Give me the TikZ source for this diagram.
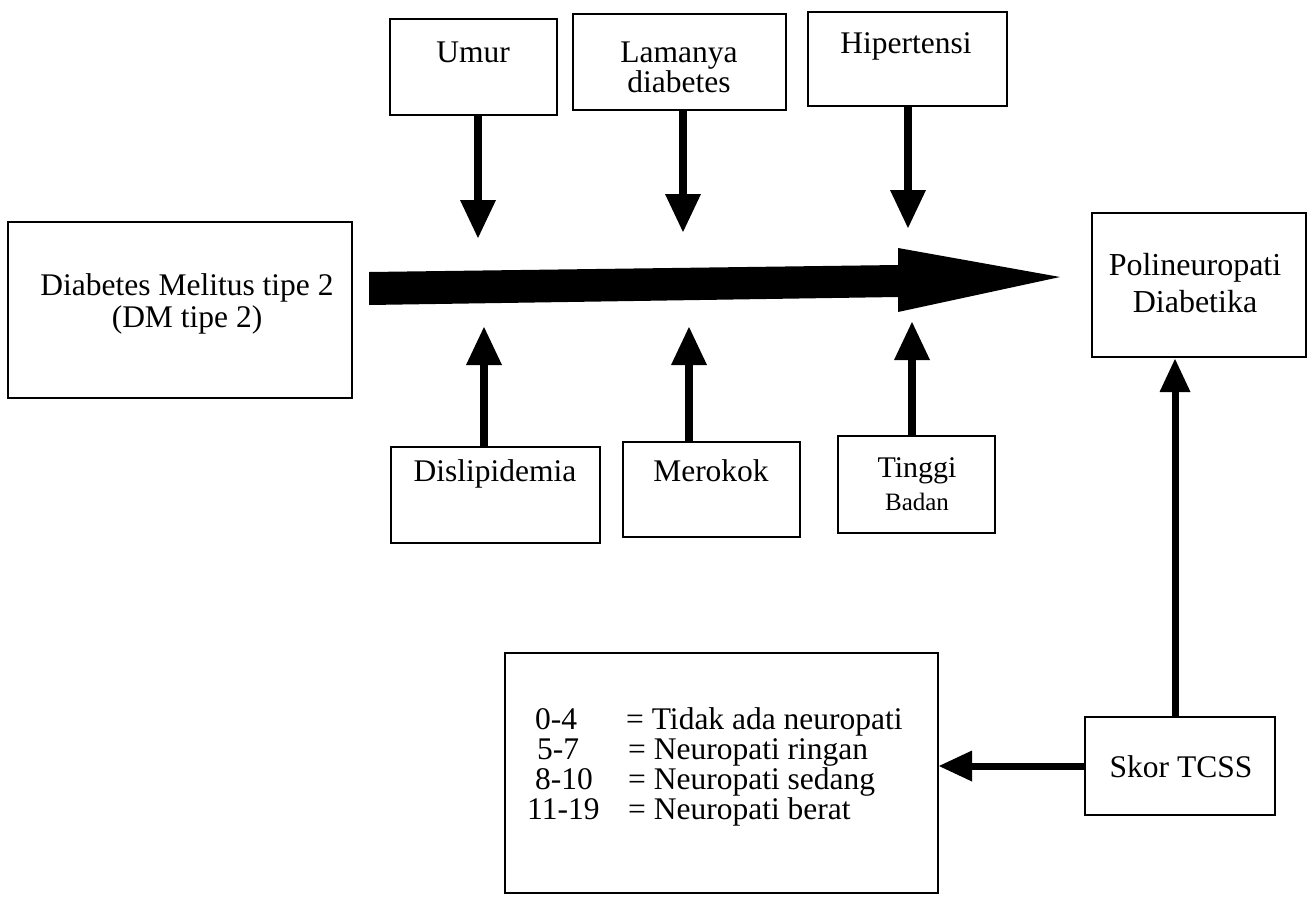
\documentclass[tikz,border=0pt]{standalone}
\usepackage{fontspec}
\setmainfont{Liberation Serif}
\usetikzlibrary{arrows.meta}
\begin{document}
\begin{tikzpicture}[x=1pt,y=-1pt,
  box/.style={draw, line width=2pt, inner sep=0pt},
  txt/.style={inner sep=0pt, anchor=base, font=\fontsize{31.5}{36}\selectfont},
  txtw/.style={inner sep=0pt, anchor=base west, font=\fontsize{31.5}{36}\selectfont},
  arrbig/.style={line width=8pt, -{Triangle[length=38pt,width=36pt,line width=0pt]}},
  arrsmall/.style={line width=7pt, -{Triangle[length=33pt,width=31pt,line width=0pt]}}]
\useasboundingbox (0,0) rectangle (1308,897);

% boxes
\node[box, minimum width=344pt, minimum height=176pt] (dm) at (180,310) {};
\node[box, minimum width=167pt, minimum height=96pt] (umur) at (473.5,67) {};
\node[box, minimum width=213pt, minimum height=96pt] (lama) at (679.5,62) {};
\node[box, minimum width=199pt, minimum height=94pt] (hip) at (907.5,59) {};
\node[box, minimum width=209pt, minimum height=96pt] (dis) at (495.5,495) {};
\node[box, minimum width=177pt, minimum height=95pt] (mer) at (711.5,489.5) {};
\node[box, minimum width=157pt, minimum height=97pt] (ting) at (916.5,484.5) {};
\node[box, minimum width=214pt, minimum height=144pt] (poli) at (1199,285) {};
\node[box, minimum width=190pt, minimum height=98pt] (skor) at (1180,766) {};
\node[box, minimum width=433pt, minimum height=240pt] (list) at (721.5,773) {};

% texts
\node[txt] (dm1) at (187,295) {Diabetes Melitus tipe 2};
\node[txt] (dm2) at (187,327) {(DM tipe 2)};
\node[txt] (umurT) at (473,62) {Umur};
\node[txt] (lama1) at (679,62) {Lamanya};
\node[txt] (lama2) at (679,92) {diabetes};
\node[txt] (hipT) at (906,53) {Hipertensi};
\node[txt] (disT) at (495,481) {Dislipidemia};
\node[txt] (merT) at (711,481) {Merokok};
\node[txt, font=\fontsize{30}{34}\selectfont] (ting1) at (917,477) {Tinggi};
\node[txt, font=\fontsize{25}{30}\selectfont] (ting2) at (917,510) {Badan};
\node[txt, font=\fontsize{32}{36}\selectfont] (poli1) at (1195,275) {Polineuropati};
\node[txt, font=\fontsize{32}{36}\selectfont] (poli2) at (1195,312) {Diabetika};
\node[txt] (skorT) at (1181,777) {Skor TCSS};

\node[txtw] (n1) at (535,729) {0-4};
\node[txtw] (n2) at (537,759) {5-7};
\node[txtw] (n3) at (535,789) {8-10};
\node[txtw] (n4) at (527,819) {11-19};
\node[txtw] (d1) at (626,729) {= Tidak ada neuropati};
\node[txtw] (d2) at (628,759) {= Neuropati ringan};
\node[txtw] (d3) at (628,789) {= Neuropati sedang};
\node[txtw] (d4) at (628,819) {= Neuropati berat};

% big arrow
\coordinate (bigS) at (369,288);
\coordinate (bigE) at (1060,277);
\fill (bigS) ++(0,-16) -- (898,265) -- (898,248) -- (bigE) -- (898,312) -- (898,297) -- (369,305) -- cycle;

% factor arrows
\coordinate (tU) at (478,238);
\coordinate (tL) at (683,232);
\coordinate (tH) at (908,228);
\coordinate (tD) at (484,327);
\coordinate (tM) at (689,327);
\coordinate (tT) at (912,322);
\draw[arrbig] (tU |- umur.south) -- (tU);
\draw[arrbig] (tL |- lama.south) -- (tL);
\draw[arrbig] (tH |- hip.south) -- (tH);
\draw[arrbig] (tD |- dis.north) -- (tD);
\draw[arrbig] (tM |- mer.north) -- (tM);
\draw[arrbig] (tT |- ting.north) -- (tT);

% TCSS arrows
\coordinate (tP) at (1175,359);
\draw[arrsmall] (tP |- skor.north) -- (tP);
\draw[arrsmall] (skor.west) -- (skor.west -| list.east);
\end{tikzpicture}
\end{document}
